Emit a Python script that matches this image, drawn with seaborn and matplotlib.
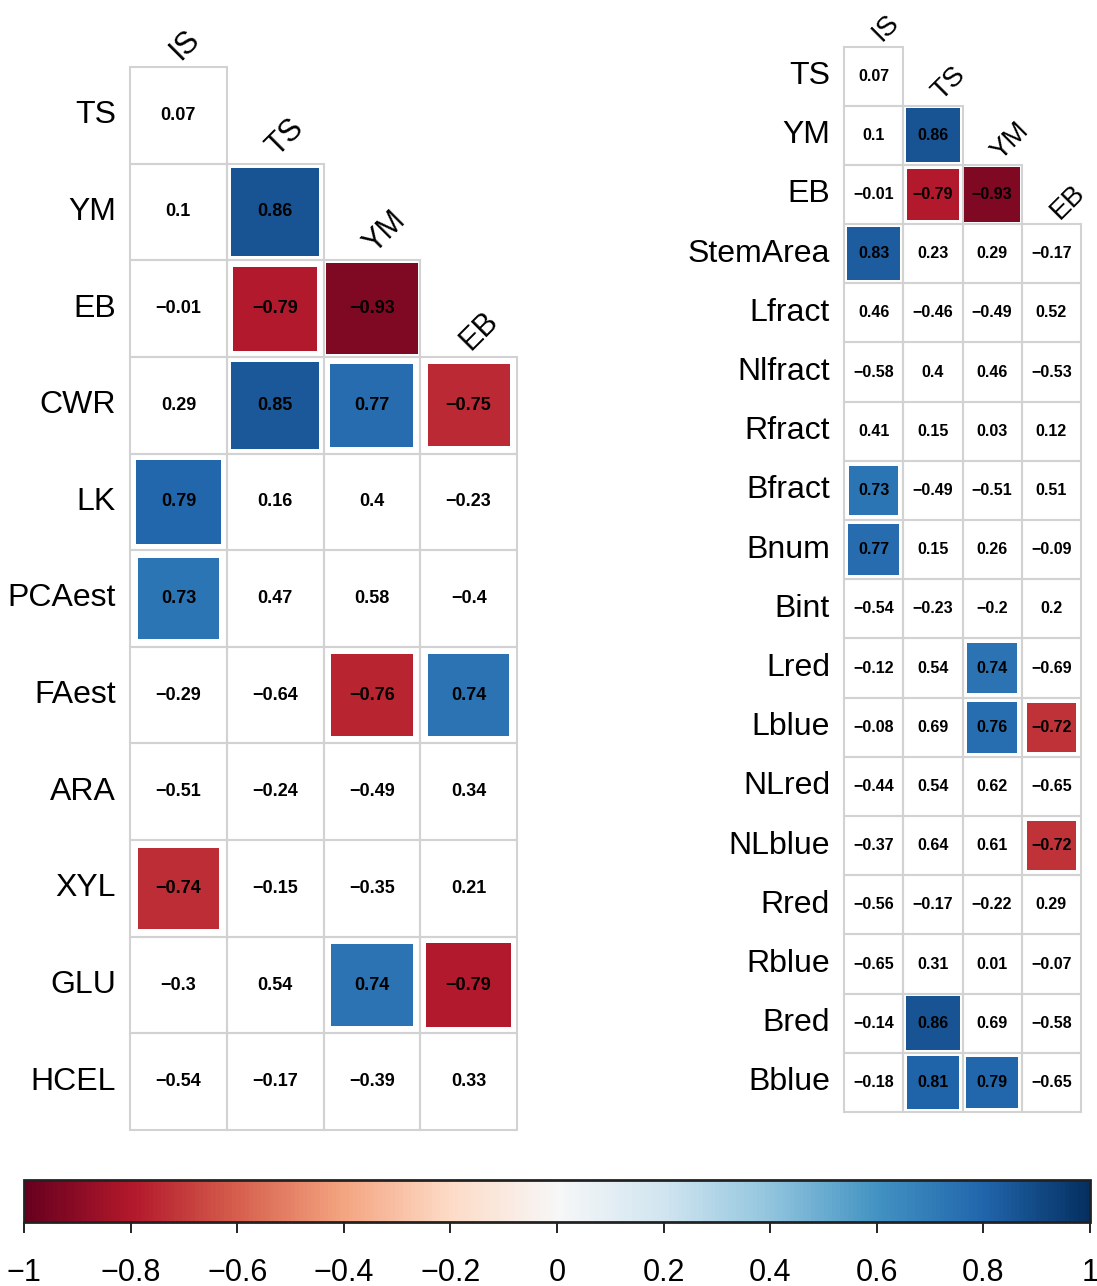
import numpy as np
import pandas as pd
import matplotlib
matplotlib.use("Agg")
import matplotlib.pyplot as plt
from matplotlib.colors import ListedColormap, Normalize
from matplotlib.cm import ScalarMappable
from matplotlib.patches import Rectangle
import seaborn as sns

# Column variables (same for both panels)
cols = ["IS", "TS", "YM", "EB"]

# Left panel: lower-triangle correlations, one list per row
left_rows = ["TS", "YM", "EB", "CWR", "LK", "PCAest", "FAest", "ARA", "XYL", "GLU", "HCEL"]
left_vals = [
    [0.07],
    [0.1, 0.86],
    [-0.01, -0.79, -0.93],
    [0.29, 0.85, 0.77, -0.75],
    [0.79, 0.16, 0.4, -0.23],
    [0.73, 0.47, 0.58, -0.4],
    [-0.29, -0.64, -0.76, 0.74],
    [-0.51, -0.24, -0.49, 0.34],
    [-0.74, -0.15, -0.35, 0.21],
    [-0.3, 0.54, 0.74, -0.79],
    [-0.54, -0.17, -0.39, 0.33],
]

# Right panel
right_rows = ["TS", "YM", "EB", "StemArea", "Lfract", "Nlfract", "Rfract", "Bfract",
              "Bnum", "Bint", "Lred", "Lblue", "NLred", "NLblue", "Rred", "Rblue",
              "Bred", "Bblue"]
right_vals = [
    [0.07],
    [0.1, 0.86],
    [-0.01, -0.79, -0.93],
    [0.83, 0.23, 0.29, -0.17],
    [0.46, -0.46, -0.49, 0.52],
    [-0.58, 0.4, 0.46, -0.53],
    [0.41, 0.15, 0.03, 0.12],
    [0.73, -0.49, -0.51, 0.51],
    [0.77, 0.15, 0.26, -0.09],
    [-0.54, -0.23, -0.2, 0.2],
    [-0.12, 0.54, 0.74, -0.69],
    [-0.08, 0.69, 0.76, -0.72],
    [-0.44, 0.54, 0.62, -0.65],
    [-0.37, 0.64, 0.61, -0.72],
    [-0.56, -0.17, -0.22, 0.29],
    [-0.65, 0.31, 0.01, -0.07],
    [-0.14, 0.86, 0.69, -0.58],
    [-0.18, 0.81, 0.79, -0.65],
]

cbar_ticks = [-1, -0.8, -0.6, -0.4, -0.2, 0, 0.2, 0.4, 0.6, 0.8, 1]
threshold = 0.7  # coloured square only for strong correlations

sns.set_style("white")
plt.rcParams["font.family"] = ["Liberation Sans", "DejaVu Sans"]
plt.rcParams["text.color"] = "black"
plt.rcParams["xtick.color"] = "black"
plt.rcParams["ytick.color"] = "black"

cmap = plt.get_cmap("RdBu")
norm = Normalize(-1, 1)


def fmt(v):
    return f"{v:g}".replace("-", "\u2212")


def draw_panel(ax, rows, vals, label_size, annot_size, col_size, off):
    mat = np.full((len(rows), len(cols)), np.nan)
    for i, r in enumerate(vals):
        mat[i, :len(r)] = r
    df = pd.DataFrame(mat, index=rows, columns=cols)
    labels = np.array([["" if np.isnan(v) else fmt(v) for v in row] for row in mat])

    sns.heatmap(df, mask=df.isna(), cmap=ListedColormap(["white"]), cbar=False,
                annot=labels, fmt="", linewidths=0,
                annot_kws={"size": annot_size, "weight": "bold", "color": "black"},
                xticklabels=False, ax=ax)

    for i in range(mat.shape[0]):
        for j in range(mat.shape[1]):
            v = mat[i, j]
            if np.isnan(v):
                continue
            # light grey cell border
            ax.add_patch(Rectangle((j, i), 1, 1, facecolor="none", edgecolor="#d2d2d2",
                                   lw=1.5, zorder=1.5, clip_on=False))
            if abs(v) < threshold:
                continue
            s = np.sqrt(abs(v)) * 0.98
            ax.add_patch(Rectangle((j + 0.5 - s / 2, i + 0.5 - s / 2), s, s,
                                   facecolor=cmap(norm(v)), edgecolor="none", zorder=2))

    ax.set_yticklabels(rows, rotation=0, fontsize=label_size, color="black")
    ax.tick_params(axis="y", length=0, pad=off[2])
    ax.set_xlabel("")
    ax.set_ylabel("")

    # diagonal column labels on top of each column's first cell
    for j, c in enumerate(cols):
        ax.annotate(c, xy=(j + 0.5, j), xytext=(off[0], off[1]), textcoords="offset points",
                    rotation=45, rotation_mode="anchor", ha="left", va="bottom",
                    fontsize=col_size, color="black", annotation_clip=False)


fig = plt.figure(figsize=(10.97, 12.86), dpi=100)

ax1 = fig.add_axes([130 / 1097, 1 - 1130 / 1286, 387 / 1097, 1063 / 1286])
draw_panel(ax1, left_rows, left_vals, 23, 13, 22, (5, 1, 10))

ax2 = fig.add_axes([844 / 1097, 1 - 1112 / 1286, 237 / 1097, 1065.5 / 1286])
draw_panel(ax2, right_rows, right_vals, 23, 11.5, 20, (9, 0, 10))

# colour legend
cax = fig.add_axes([24 / 1097, 1 - 1222 / 1286, 1066 / 1097, 42 / 1286])
cb = fig.colorbar(ScalarMappable(norm=norm, cmap=cmap), cax=cax,
                  orientation="horizontal", ticks=cbar_ticks)
cb.ax.set_xticklabels([fmt(t) for t in cbar_ticks], fontsize=22, color="black")
cb.ax.tick_params(length=8, width=1.2, pad=18, direction="out", color="black")
cb.outline.set_linewidth(2)
cb.outline.set_edgecolor("#222222")

fig.savefig("out.png", dpi=100)
